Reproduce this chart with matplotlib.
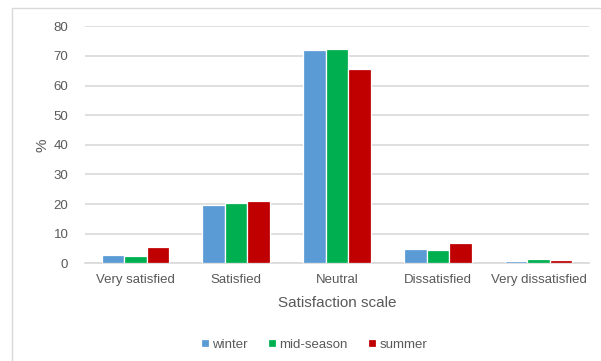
import matplotlib
matplotlib.use("Agg")
import matplotlib.pyplot as plt
import numpy as np
from matplotlib.patches import Rectangle

categories = ["Very satisfied", "Satisfied", "Neutral", "Dissatisfied", "Very dissatisfied"]
series_names = ["winter", "mid-season", "summer"]
winter = [2.7, 19.6, 72.0, 4.7, 0.8]
mid_season = [2.6, 20.3, 72.3, 4.4, 1.6]
summer = [5.6, 21.1, 65.7, 6.7, 1.2]
colors = ["#5B9BD5", "#00B050", "#C00000"]
yticks = [0, 10, 20, 30, 40, 50, 60, 70, 80]

plt.rcParams["font.family"] = ["Liberation Sans", "DejaVu Sans"]
text_color = "#595959"

W, H = 601, 361
fig = plt.figure(figsize=(W / 100, H / 100), dpi=100)

# outer chart frame
fig.patches.append(Rectangle((12 / W, -0.1), 1.2, 1 - 8 / H + 0.1,
                             transform=fig.transFigure, fill=False,
                             edgecolor="#D9D9D9", linewidth=1.0))

left, right = 85 / W, 589 / W
top, bottom = 1 - 26.3 / H, 1 - 263.3 / H
ax = fig.add_axes([left, bottom, right - left, top - bottom])

x = np.arange(len(categories))
width = 0.223
for i, (vals, name) in enumerate(zip([winter, mid_season, summer], series_names)):
    ax.bar(x + (i - 1) * width, vals, width, color=colors[i], label=name,
           edgecolor="white", linewidth=0.9, zorder=3)

ax.set_xlim(-0.5, len(categories) - 0.5)
ax.set_ylim(0, 80)
ax.set_yticks(yticks)
ax.set_xticks(x)
ax.set_xticklabels(categories)
ax.yaxis.grid(True, color="#D9D9D9", linewidth=1.2, zorder=0)
for s in ["top", "right", "left"]:
    ax.spines[s].set_visible(False)
ax.spines["bottom"].set_color("#D9D9D9")
ax.spines["bottom"].set_linewidth(1.2)
ax.tick_params(axis="both", length=0, labelsize=9.5, colors=text_color)
ax.tick_params(axis="y", pad=12)
ax.tick_params(axis="x", pad=8)

ax.set_xlabel("Satisfaction scale", fontsize=11, color=text_color, labelpad=7)
fig.text(42.7 / W, 1 - 145 / H, "%", rotation=90, fontsize=11,
         color=text_color, ha="center", va="center")

leg = fig.legend(loc="center", bbox_to_anchor=(314 / W, 1 - 344.7 / H), ncol=3,
                 frameon=False, fontsize=9.5, handlelength=0.65, handleheight=0.65,
                 handletextpad=0.25, columnspacing=1.5)
for t in leg.get_texts():
    t.set_color(text_color)

fig.savefig("out.png", dpi=100)
